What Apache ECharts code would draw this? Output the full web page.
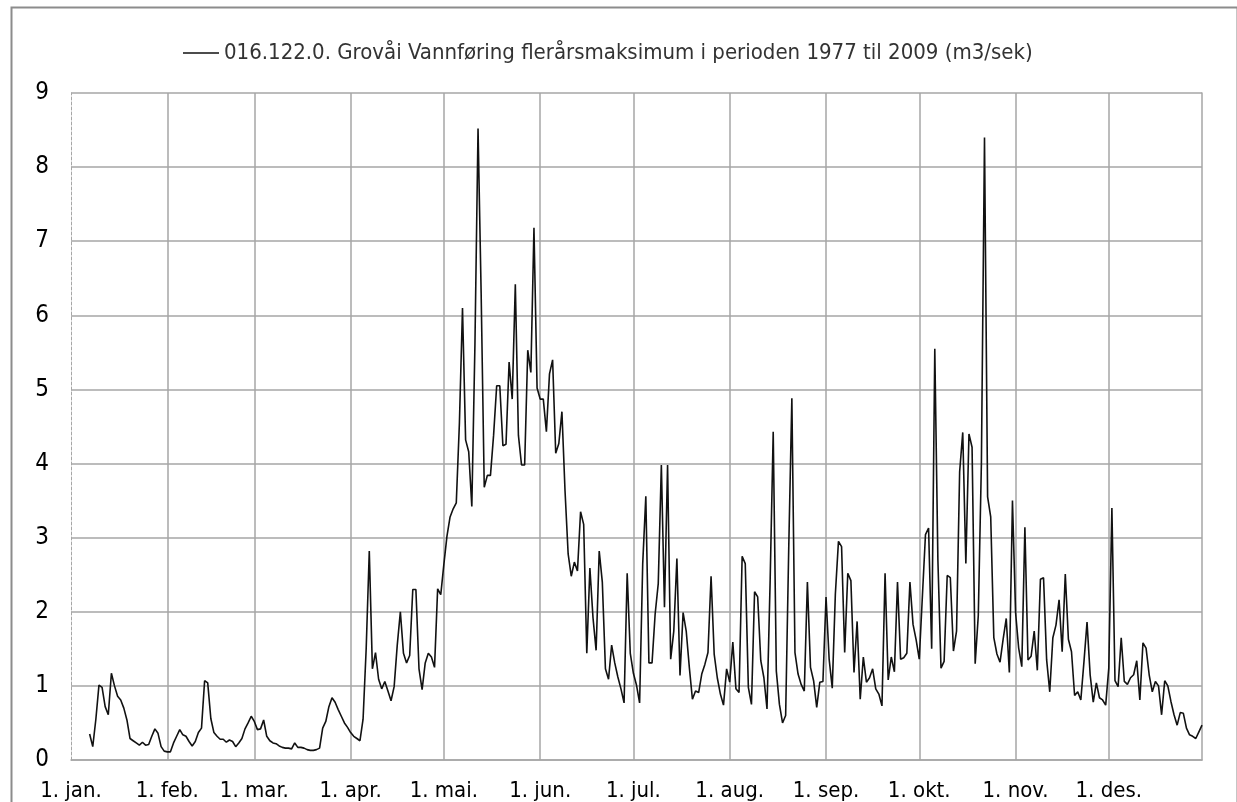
<!DOCTYPE html>
<html>
<head>
<meta charset="utf-8">
<script src="https://cdn.jsdelivr.net/npm/echarts@6/dist/echarts.min.js"></script>
<style>
  html, body { margin: 0; padding: 0; background: #fff; }
  #chart { width: 1237px; height: 802px; }
</style>
</head>
<body>
<div id="chart"></div>
<script>
// Month names / lengths used for the daily category axis
const monthNames = ['jan.', 'feb.', 'mar.', 'apr.', 'mai.', 'jun.', 'jul.', 'aug.', 'sep.', 'okt.', 'nov.', 'des.']
const monthDays = [31, 28, 31, 30, 31, 30, 31, 31, 30, 31, 30, 31]

// Daily maximum flow (m3/sek), one array per month
const flowJan = [null, null, null, null, null, null, 0.35, 0.18, 0.55, 1.01, 0.98, 0.72, 0.61, 1.17, 1.0, 0.86, 0.81, 0.70, 0.54, 0.29, 0.26, 0.23, 0.20, 0.24, 0.20, 0.21, 0.32, 0.42, 0.36, 0.18, 0.12]
const flowFeb = [0.11, 0.11, 0.23, 0.32, 0.41, 0.34, 0.32, 0.25, 0.19, 0.25, 0.37, 0.43, 1.07, 1.04, 0.56, 0.37, 0.32, 0.28, 0.28, 0.24, 0.27, 0.25, 0.18, 0.23, 0.29, 0.42, 0.50, 0.59]
const flowMar = [0.52, 0.41, 0.42, 0.54, 0.32, 0.26, 0.23, 0.22, 0.19, 0.17, 0.16, 0.16, 0.15, 0.23, 0.17, 0.17, 0.16, 0.14, 0.13, 0.13, 0.14, 0.16, 0.43, 0.52, 0.72, 0.84, 0.78, 0.68, 0.59, 0.50, 0.44]
const flowApr = [0.37, 0.32, 0.29, 0.26, 0.55, 1.5, 2.82, 1.23, 1.45, 1.09, 0.96, 1.06, 0.93, 0.80, 0.99, 1.55, 2.0, 1.44, 1.31, 1.41, 2.30, 2.30, 1.23, 0.95, 1.31, 1.44, 1.39, 1.25, 2.31, 2.23]
const flowMai = [2.64, 3.02, 3.28, 3.39, 3.47, 4.54, 6.10, 4.32, 4.16, 3.42, 5.6, 8.52, 6.3, 3.68, 3.84, 3.84, 4.38, 5.05, 5.05, 4.24, 4.26, 5.37, 4.87, 6.42, 4.38, 3.98, 3.98, 5.53, 5.23, 7.18, 5.02]
const flowJun = [4.87, 4.87, 4.43, 5.21, 5.40, 4.14, 4.27, 4.70, 3.63, 2.78, 2.48, 2.67, 2.55, 3.35, 3.18, 1.44, 2.59, 1.92, 1.48, 2.82, 2.40, 1.23, 1.09, 1.55, 1.31, 1.12, 0.96, 0.77, 2.52, 1.44]
const flowJul = [1.17, 1.01, 0.77, 2.65, 3.56, 1.31, 1.31, 1.97, 2.38, 3.98, 2.06, 3.98, 1.36, 1.74, 2.72, 1.14, 1.99, 1.74, 1.25, 0.82, 0.93, 0.91, 1.16, 1.29, 1.45, 2.48, 1.43, 1.11, 0.89, 0.74, 1.23]
const flowAug = [1.05, 1.59, 0.96, 0.91, 2.75, 2.65, 0.98, 0.75, 2.27, 2.20, 1.34, 1.11, 0.69, 2.4, 4.43, 1.20, 0.75, 0.50, 0.60, 2.87, 4.88, 1.45, 1.16, 1.02, 0.93, 2.40, 1.25, 1.07, 0.71, 1.05, 1.06]
const flowSep = [2.20, 1.36, 0.97, 2.24, 2.95, 2.88, 1.45, 2.52, 2.42, 1.18, 1.87, 0.82, 1.39, 1.05, 1.11, 1.23, 0.96, 0.89, 0.73, 2.52, 1.08, 1.39, 1.19, 2.40, 1.36, 1.38, 1.44, 2.40, 1.83, 1.62]
const flowOkt = [1.36, 2.20, 3.04, 3.13, 1.50, 5.55, 2.7, 1.24, 1.33, 2.49, 2.46, 1.47, 1.74, 3.89, 4.42, 2.65, 4.40, 4.22, 1.30, 1.95, 4.0, 8.40, 3.55, 3.28, 1.65, 1.43, 1.32, 1.63, 1.91, 1.18, 3.50]
const flowNov = [1.99, 1.51, 1.26, 3.14, 1.35, 1.40, 1.74, 1.21, 2.44, 2.46, 1.35, 0.92, 1.65, 1.82, 2.16, 1.46, 2.51, 1.63, 1.46, 0.87, 0.92, 0.81, 1.32, 1.86, 1.15, 0.78, 1.04, 0.84, 0.81, 0.74]
const flowDes = [1.24, 3.40, 1.07, 0.99, 1.65, 1.06, 1.02, 1.11, 1.15, 1.34, 0.81, 1.58, 1.51, 1.15, 0.92, 1.06, 1.0, 0.61, 1.07, 1.0, 0.79, 0.61, 0.47, 0.64, 0.63, 0.43, 0.34, 0.32, 0.29, 0.38, 0.47]

const seriesName = '016.122.0. Grovåi Vannføring flerårsmaksimum i perioden 1977 til 2009 (m3/sek)'

// build day labels "1. jan.", "2. jan." ...
const categories = []
monthDays.forEach((n, m) => {
  for (let d = 1; d <= n; d++) categories.push(d + '. ' + monthNames[m])
})
const values = [].concat(flowJan, flowFeb, flowMar, flowApr, flowMai, flowJun,
  flowJul, flowAug, flowSep, flowOkt, flowNov, flowDes)

const isMonthStart = (i) => categories[i].startsWith('1. ')
const font = "'Liberation Sans Narrow', 'DejaVu Sans Condensed', sans-serif"
const gridColor = '#a6a6a6'

const chart = echarts.init(document.getElementById('chart'))

chart.setOption({
  animation: false,
  backgroundColor: '#fff',
  textStyle: { fontFamily: font },
  graphic: [{
    type: 'rect',
    left: 9, top: 5,
    shape: { width: 1226, height: 820 },
    style: { fill: 'none', stroke: '#8c8c8c', lineWidth: 2 },
    silent: true
  }],
  legend: {
    left: 178,
    top: 37,
    icon: 'rect',
    itemWidth: 36,
    itemHeight: 1.5,
    itemGap: 8,
    textStyle: { fontFamily: font, fontSize: 22, color: '#333' },
    data: [seriesName]
  },
  grid: {
    left: 71, right: 35, top: 93, bottom: 42,
    containLabel: false
  },
  xAxis: {
    type: 'category',
    data: categories,
    boundaryGap: false,
    axisLine: { lineStyle: { color: gridColor, width: 1.5 } },
    axisTick: { show: false },
    axisLabel: {
      interval: (i) => isMonthStart(i),
      fontFamily: font,
      fontSize: 22,
      color: '#000',
      margin: 20
    },
    splitLine: {
      show: true,
      interval: (i) => isMonthStart(i) && i > 0,
      lineStyle: { color: gridColor, width: 1.5 }
    }
  },
  yAxis: [{
    type: 'value',
    min: 0,
    max: 9,
    interval: 1,
    axisLine: { show: true, lineStyle: { color: gridColor, type: [3, 2], width: 1 } },
    axisTick: { show: false },
    axisLabel: { fontFamily: font, fontSize: 24, color: '#000', margin: 22 },
    splitLine: { lineStyle: { color: gridColor, width: 1.5 } }
  }, {
    type: 'value',
    position: 'right',
    min: 0,
    max: 9,
    interval: 1,
    axisLine: { show: true, lineStyle: { color: gridColor, width: 1.5 } },
    axisTick: { show: false },
    axisLabel: { show: false },
    splitLine: { show: false }
  }],
  series: [{
    name: seriesName,
    type: 'line',
    data: values,
    showSymbol: false,
    connectNulls: false,
    color: '#111',
    lineStyle: { color: '#111', width: 1.6 }
  }]
})
</script>
</body>
</html>
